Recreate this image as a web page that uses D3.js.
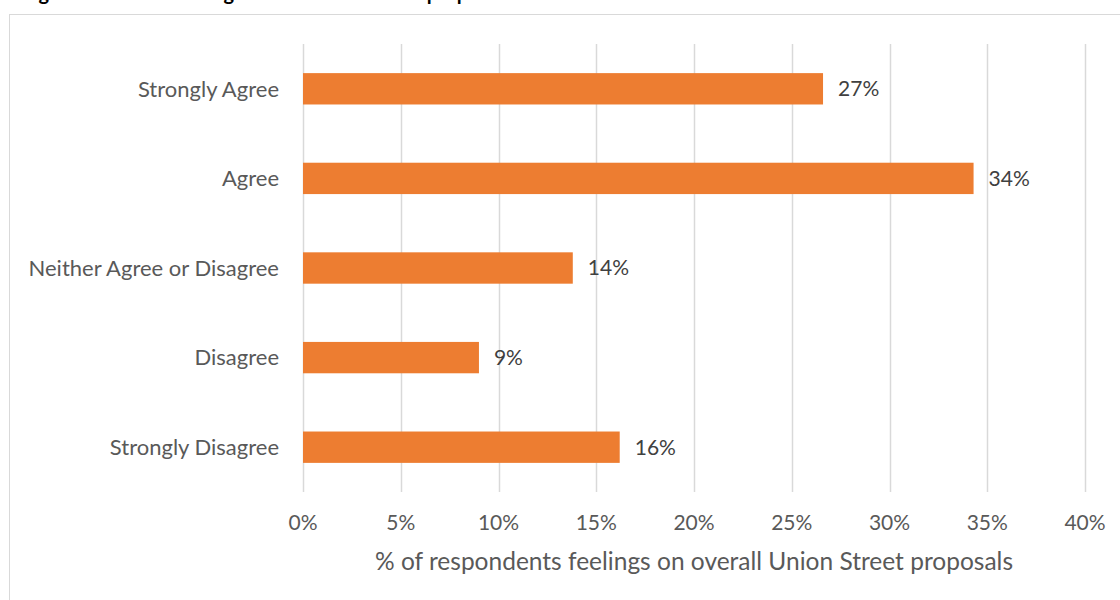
<!doctype html>
<html lang="en">
<head>
    <meta charset="UTF-8">
    <title>Union Street proposals</title>
    <script src="https://d3js.org/d3.v7.min.js"></script>
    <style>
        body { margin: 0; background: #fff; }
        text { font-family: Lato, "Open Sans", sans-serif; }
    </style>
</head>
<body>
<div id="chart-area"></div>

<script>
const chartW = 1120;
const chartH = 600;

// data
const categories = ['Strongly Agree', 'Agree', 'Neither Agree or Disagree', 'Disagree', 'Strongly Disagree'];
const values     = [26.6, 34.3, 13.8, 9.0, 16.2];
const valueLabels = ['27%', '34%', '14%', '9%', '16%'];
const xTicks     = [0, 5, 10, 15, 20, 25, 30, 35, 40];

const titleText = 'Figure 8: Overall feelings on the Union Street proposals';
const axisTitle = '% of respondents feelings on overall Union Street proposals';

const margin = { top: 44, right: 35, bottom: 108, left: 303 };
const innerW = chartW - margin.left - margin.right;
const innerH = chartH - margin.top - margin.bottom;

const svg = d3.select('#chart-area')
    .append('svg')
    .attr('width', chartW)
    .attr('height', chartH);

// caption sits above the frame, cropped like in the source
svg.append('text')
    .attr('x', 22)
    .attr('y', 0)
    .attr('font-size', 20)
    .attr('font-weight', 'bold')
    .attr('fill', '#000')
    .text(titleText);

// chart frame
svg.append('rect')
    .attr('x', 9.5)
    .attr('y', 14.5)
    .attr('width', chartW)
    .attr('height', chartH)
    .attr('fill', 'none')
    .attr('stroke', '#d9d9d9');

const g = svg.append('g')
    .attr('transform', `translate(${margin.left},${margin.top})`);

const x = d3.scaleLinear()
    .domain([0, 40])
    .range([0, innerW]);

const y = d3.scaleBand()
    .domain(categories)
    .range([0, innerH])
    .paddingInner(0.65)
    .paddingOuter(0.325);

// gridlines
g.selectAll('line.grid')
    .data(xTicks)
    .enter()
    .append('line')
        .attr('class', 'grid')
        .attr('x1', d => Math.round(x(d)) + 0.5)
        .attr('x2', d => Math.round(x(d)) + 0.5)
        .attr('y1', 0)
        .attr('y2', innerH)
        .attr('stroke', '#d9d9d9')
        .attr('stroke-width', 1.5);

// x tick labels
g.selectAll('text.tick')
    .data(xTicks)
    .enter()
    .append('text')
        .attr('class', 'tick')
        .attr('x', d => x(d))
        .attr('y', innerH + 38)
        .attr('text-anchor', 'middle')
        .attr('font-size', 21)
        .attr('fill', '#595959')
        .text(d => d + '%');

// category labels
g.selectAll('text.cat')
    .data(categories)
    .enter()
    .append('text')
        .attr('class', 'cat')
        .attr('x', -24)
        .attr('y', d => y(d) + y.bandwidth() / 2)
        .attr('dy', '0.35em')
        .attr('text-anchor', 'end')
        .attr('font-size', 22)
        .attr('fill', '#595959')
        .text(d => d);

// bars
g.selectAll('rect.bar')
    .data(values)
    .enter()
    .append('rect')
        .attr('class', 'bar')
        .attr('x', 0)
        .attr('y', (d, i) => y(categories[i]))
        .attr('width', d => x(d))
        .attr('height', y.bandwidth())
        .attr('fill', '#ed7d31');

// value labels
g.selectAll('text.val')
    .data(values)
    .enter()
    .append('text')
        .attr('class', 'val')
        .attr('x', d => x(d) + 15)
        .attr('y', (d, i) => y(categories[i]) + y.bandwidth() / 2)
        .attr('dy', '0.35em')
        .attr('font-size', 21)
        .attr('fill', '#404040')
        .text((d, i) => valueLabels[i]);

// axis title
svg.append('text')
    .attr('x', margin.left + x(20))
    .attr('y', 570)
    .attr('text-anchor', 'middle')
    .attr('font-size', 24.5)
    .attr('fill', '#595959')
    .text(axisTitle);
</script>

</body>
</html>
